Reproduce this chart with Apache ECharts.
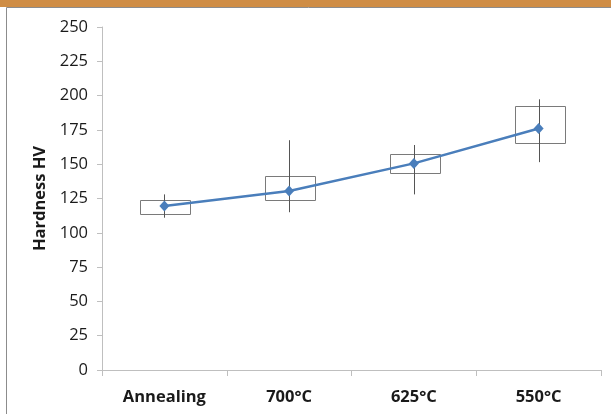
<!DOCTYPE html>
<html>
<head>
<meta charset="utf-8">
<script src="https://cdn.jsdelivr.net/npm/echarts@6/dist/echarts.min.js"></script>
<style>html,body{margin:0;padding:0;background:#fff}#c{width:611px;height:414px}</style>
</head>
<body>
<div id="c"></div>
<script>
var categories = ['Annealing', '700°C', '625°C', '550°C'];
var meanValues = [119.5, 130.5, 150.6, 176];
var whiskerLow = [111, 115, 128, 151.5];
var boxLow = [113.7, 124, 143.3, 165.2];
var boxHigh = [124, 141.6, 157.2, 192.4];
var whiskerHigh = [128, 167.5, 164, 197.3];
var yTicks = [0, 250, 25];

var boxData = categories.map(function (c, i) {
  return [i, whiskerLow[i], boxLow[i], boxHigh[i], whiskerHigh[i]];
});

var chart = echarts.init(document.getElementById('c'), null, {renderer: 'canvas'});
var font = '"Open Sans", "Noto Sans", sans-serif';
chart.setOption({
  animation: false,
  grid: {left: 102, right: 10, top: 27, bottom: 44, containLabel: false},
  graphic: [
    {type: 'rect', shape: {x: 0, y: 0, width: 611, height: 7}, style: {fill: '#CF8D45'}, z: 100},
    {type: 'polyline', shape: {points: [[6.5, 414], [6.5, 7.5], [611, 7.5]]}, style: {stroke: '#8c8c8c', lineWidth: 1, fill: null}, z: 100}
  ],
  xAxis: {
    type: 'category',
    data: categories,
    boundaryGap: true,
    axisLine: {lineStyle: {color: '#bfbfbf', width: 1}},
    axisTick: {show: true, length: 6, lineStyle: {color: '#bfbfbf'}},
    axisLabel: {color: '#1a1a1a', fontFamily: font, fontWeight: 'bold', fontSize: 16.5, margin: 19},
    splitLine: {show: false}
  },
  yAxis: {
    type: 'value',
    min: yTicks[0], max: yTicks[1], interval: yTicks[2],
    name: 'Hardness HV',
    nameLocation: 'middle',
    nameGap: 52,
    nameRotate: 90,
    nameTextStyle: {color: '#1a1a1a', fontFamily: font, fontWeight: 'bold', fontSize: 16.5},
    axisLine: {show: true, lineStyle: {color: '#bfbfbf', width: 1}},
    axisTick: {show: true, length: 5, lineStyle: {color: '#bfbfbf'}},
    axisLabel: {color: '#1a1a1a', fontFamily: font, fontSize: 16.5, margin: 14},
    splitLine: {show: false}
  },
  series: [
    {
      type: 'custom',
      data: boxData,
      z: 2,
      renderItem: function (params, api) {
        var x = api.value(0);
        var pLow = api.coord([x, api.value(1)]);
        var pQ1 = api.coord([x, api.value(2)]);
        var pQ3 = api.coord([x, api.value(3)]);
        var pHigh = api.coord([x, api.value(4)]);
        var bw = api.size([1, 0])[0] * 0.4;
        var cx = Math.round(pLow[0]) + 0.5;
        return {
          type: 'group',
          children: [
            {type: 'rect', shape: {x: Math.round(cx - bw / 2) + 0.5, y: Math.round(pQ3[1]) + 0.5, width: Math.round(bw), height: Math.round(pQ1[1] - pQ3[1])},
             style: {fill: null, stroke: '#7a7a7a', lineWidth: 1}},
            {type: 'line', shape: {x1: cx, y1: pLow[1], x2: cx, y2: pHigh[1]},
             style: {stroke: '#555555', lineWidth: 1}}
          ]
        };
      }
    },
    {
      type: 'line',
      data: meanValues,
      z: 5,
      symbol: 'diamond',
      symbolSize: [10, 11],
      lineStyle: {color: '#4A7EBB', width: 2.5},
      itemStyle: {color: '#4A7EBB'}
    }
  ]
});
</script>
</body>
</html>
